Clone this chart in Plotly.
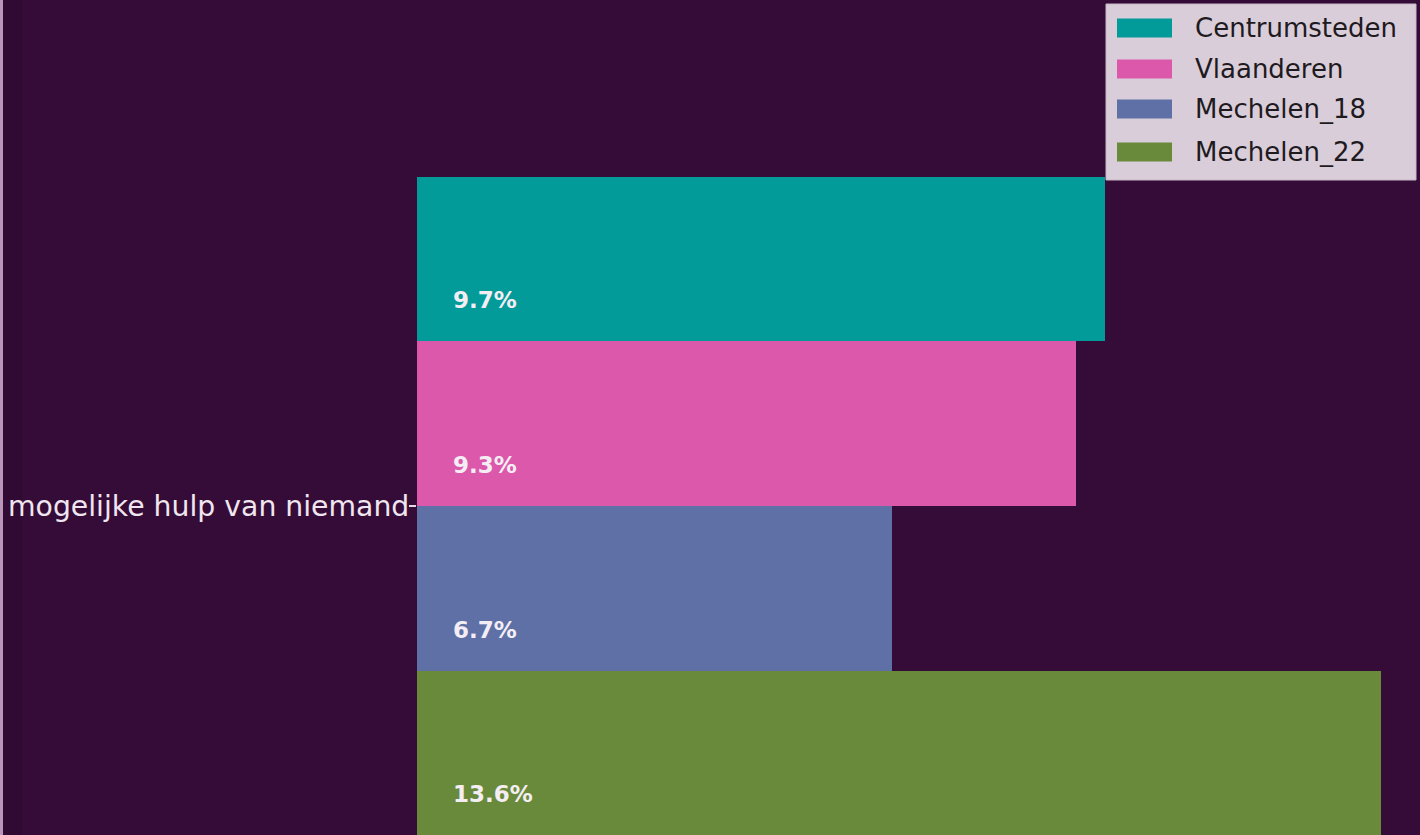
import plotly.graph_objects as go

# ---- data ----
categories = ["mogelijke hulp van niemand"]
series_names = ["Centrumsteden", "Vlaanderen", "Mechelen_18", "Mechelen_22"]
series_values = [[9.7], [9.3], [6.7], [13.6]]
series_colors = ["#039a9a", "#dc58ab", "#5e70a6", "#6a8a3b"]

W, H = 1420, 835
ML = 417
PW, PH = W - ML, H
BG = "#350b37"

fig = go.Figure()
for name, vals, col in zip(series_names, series_values, series_colors):
    fig.add_trace(go.Bar(
        y=categories, x=vals, name=name, orientation="h",
        marker=dict(color=col, line=dict(width=0)),
        showlegend=False, hoverinfo="x+name",
    ))

# value labels, placed in the lower-left part of each bar
n = len(series_names)
annotations = []
for i, vals in enumerate(series_values):
    for j, v in enumerate(vals):
        annotations.append(dict(
            x=0, y=j + (i - (n - 1) / 2) / n + 0.0625,
            xref="x", yref="y", xanchor="left", yanchor="middle", xshift=34,
            text=f"<b>{v:.1f}%</b>", showarrow=False,
            font=dict(family="DejaVu Sans", size=23, color="#f4eef4"),
        ))

def px(x):
    return (x - ML) / PW

def py(y):
    return 1 - y / PH

shapes = []
# left edge stripe
shapes.append(dict(type="rect", xref="paper", yref="paper", x0=px(0), x1=px(3), y0=0, y1=1,
                   fillcolor="#b996b9", line=dict(width=0), layer="above"))
shapes.append(dict(type="rect", xref="paper", yref="paper", x0=px(3), x1=px(22), y0=0, y1=1,
                   fillcolor="#300a32", line=dict(width=0), layer="below"))

# legend box
shapes.append(dict(type="rect", xref="paper", yref="paper", x0=px(1106), x1=px(1416),
                   y0=py(180), y1=py(4), fillcolor="#d9cdd9",
                   line=dict(color="#c7b9c7", width=1), layer="above"))
row_y = [28, 69, 109, 152]
for name, col, ry in zip(series_names, series_colors, row_y):
    shapes.append(dict(type="rect", xref="paper", yref="paper", x0=px(1117), x1=px(1172),
                       y0=py(ry + 9.5), y1=py(ry - 9.5), fillcolor=col,
                       line=dict(width=0), layer="above"))
    annotations.append(dict(x=px(1193), y=py(ry), xref="paper", yref="paper",
                            xanchor="left", yanchor="middle", text=name, showarrow=False,
                            font=dict(family="DejaVu Sans", size=26, color="#1e1a1e")))

scale_y = 659.0  # px per category unit (bargap=0)
y_bot = 0.499
y_top = y_bot - H / scale_y

fig.update_layout(
    width=W, height=H,
    margin=dict(l=ML, r=0, t=0, b=0, pad=0),
    paper_bgcolor=BG, plot_bgcolor=BG,
    barmode="group", bargap=0, bargroupgap=0,
    showlegend=False,
    xaxis=dict(range=[0, PW / 70.9], visible=False, showgrid=False, zeroline=False),
    yaxis=dict(type="category", range=[y_bot, y_top], showgrid=False, zeroline=False,
               ticks="outside", ticklen=7, tickwidth=1.5, tickcolor="#e6d8e6",
               ticklabelstandoff=-6,
               tickfont=dict(family="DejaVu Sans", size=28.3, color="#f0e6f0"),
               showline=False),
    annotations=annotations,
    shapes=shapes,
)

fig.write_html(
    "out.html",
    config={"displayModeBar": False},
    post_script="document.body.style.margin='0';document.body.style.overflow='hidden';",
)
